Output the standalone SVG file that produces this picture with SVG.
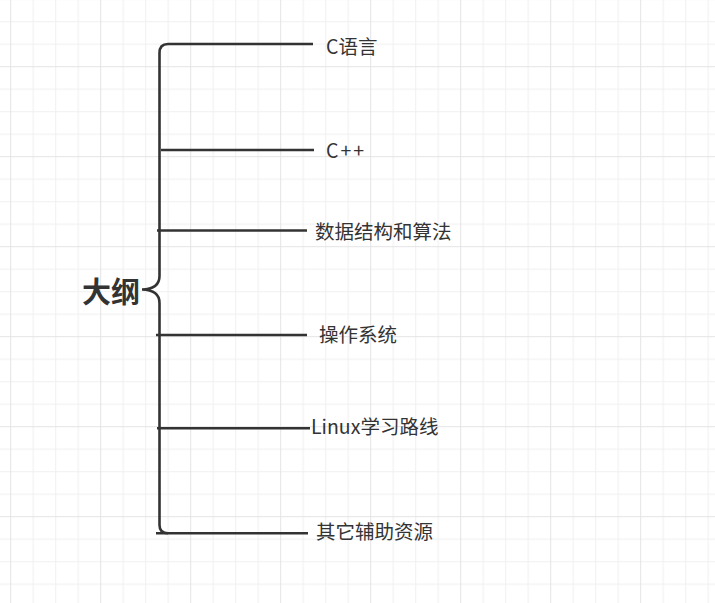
<svg xmlns="http://www.w3.org/2000/svg" width="715" height="603" viewBox="0 0 715 603">
<defs>
<pattern id="grid" patternUnits="userSpaceOnUse" x="10.2" y="21.2" width="90" height="90">
<rect x="0" y="0" width="90" height="90" fill="#ffffff"/>
<g fill="#f0f0f0">
<rect x="22.5" y="0" width="1" height="90"/>
<rect x="45" y="0" width="1" height="90"/>
<rect x="67.5" y="0" width="1" height="90"/>
<rect x="0" y="0" width="90" height="1"/>
<rect x="0" y="22.5" width="90" height="1"/>
<rect x="0" y="67.5" width="90" height="1"/>
</g>
<g fill="#e4e4e4">
<rect x="0" y="0" width="1" height="90"/>
<rect x="0" y="45" width="90" height="1"/>
</g>
</pattern>
<style>
.ln{stroke:#333333;stroke-width:2.6;fill:none;stroke-linecap:butt}
.t{font-family:"Noto Sans CJK SC","Microsoft YaHei",sans-serif;font-size:19.5px;fill:#333333;dominant-baseline:central}
.root{font-family:"Noto Sans CJK SC",sans-serif;font-size:29px;font-weight:bold;fill:#333333;dominant-baseline:central}
</style>
</defs>
<rect width="715" height="603" fill="url(#grid)"/>
<g id="connectors">
<path class="ln" d="M313,44 H168 Q159.5,44 159.5,53 V276 Q159.5,289 142,289.5 Q159.5,290 159.5,303 V525 Q159.5,533.3 168,533.3"/>
<path class="ln" d="M161,150 H314"/>
<path class="ln" d="M157,230.5 H307"/>
<path class="ln" d="M156,335 H307"/>
<path class="ln" d="M157,428.3 H310"/>
<path class="ln" d="M156,533.3 H308"/>
</g>
<g id="root"><text class="root" x="82" y="290">大纲</text></g>
<g id="n1"><text class="t" x="326" y="45.5">C语言</text></g>
<g id="n2"><text class="t" x="326" y="149" letter-spacing="2">C++</text></g>
<g id="n3"><text class="t" x="315" y="230.5">数据结构和算法</text></g>
<g id="n4"><text class="t" x="319" y="333.5">操作系统</text></g>
<g id="n5"><text class="t" x="311" y="425.5">Linux学习路线</text></g>
<g id="n6"><text class="t" x="316" y="530.5">其它辅助资源</text></g>
</svg>
